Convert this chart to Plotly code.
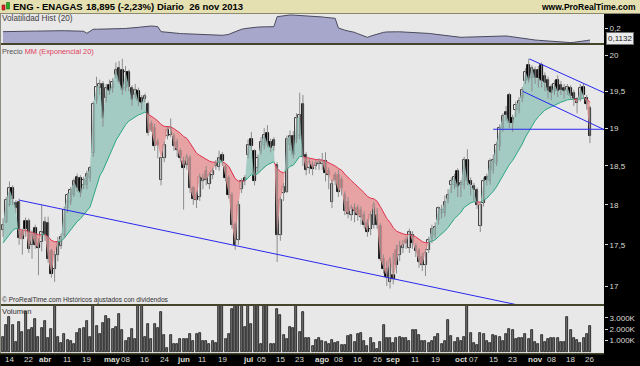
import math
import numpy as np
import pandas as pd
import plotly.graph_objects as go

W, H = 640, 366

# ---------------- data ----------------
holidays = ["2013-03-29", "2013-04-01", "2013-05-01"]
dates = [d.strftime("%Y-%m-%d") for d in pd.bdate_range("2013-03-12", "2013-11-26")
         if d.strftime("%Y-%m-%d") not in holidays]

open_ = [
    17.69, 17.79, 18.00, 18.21, 18.02, 18.04, 17.66, 17.80, 17.80, 17.50,
    17.71, 17.52, 17.54, 17.79, 17.77, 17.42, 17.20, 17.38, 17.48, 17.62,
    17.96, 18.04, 18.13, 18.36, 18.34, 18.26, 18.26, 18.34, 18.67, 19.38,
    19.54, 19.60, 19.41, 19.59, 19.54, 19.72, 19.82, 19.80, 19.54, 19.77,
    19.54, 19.45, 19.50, 19.41, 19.40, 19.33, 19.05, 19.00, 18.82, 18.32,
    18.60, 18.89, 18.91, 18.89, 18.82, 18.69, 18.56, 18.51, 18.60, 18.21,
    18.13, 18.10, 18.30, 18.43, 18.27, 18.38, 18.50, 18.49, 18.64, 18.49,
    18.34, 18.13, 17.75, 17.56, 18.20, 18.34, 18.64, 18.86, 18.69, 18.47,
    18.69, 18.78, 18.93, 18.82, 18.84, 18.51, 17.62, 18.15, 18.17, 18.78,
    18.90, 18.86, 18.90, 19.33, 18.64, 18.47, 18.51, 18.50, 18.53, 18.52,
    18.56, 18.43, 18.04, 18.38, 18.38, 18.32, 18.13, 18.04, 17.87, 17.96,
    17.96, 17.94, 17.87, 17.77, 17.70, 17.75, 17.87, 17.73, 17.33, 17.21,
    17.05, 17.13, 17.44, 17.38, 17.46, 17.56, 17.46, 17.62, 17.48, 17.42,
    17.35, 17.25, 17.44, 17.58, 17.62, 17.81, 17.90, 17.90, 18.08, 18.25,
    18.25, 18.43, 18.25, 18.25, 18.58, 18.30, 18.24, 18.19, 17.73, 18.02,
    18.36, 18.30, 18.45, 18.54, 18.76, 19.00, 19.22, 19.45, 19.13, 19.24,
    19.24, 19.41, 19.64, 19.86, 19.68, 19.80, 19.80, 19.86, 19.71, 19.66,
    19.56, 19.50, 19.66, 19.59, 19.54, 19.50, 19.54, 19.48, 19.39, 19.41,
    19.56, 19.41, 19.27,
]
high = [
    17.83, 18.10, 18.30, 18.25, 18.06, 18.08, 17.70, 17.84, 17.83, 17.68,
    17.75, 17.58, 18.00, 17.85, 17.85, 17.45, 17.42, 17.60, 17.64, 17.98,
    18.15, 18.23, 18.34, 18.40, 18.38, 18.36, 18.44, 18.50, 19.36, 19.70,
    19.66, 19.64, 19.60, 19.66, 19.68, 19.90, 19.92, 19.95, 19.85, 19.80,
    19.58, 19.60, 19.55, 19.45, 19.47, 19.36, 19.10, 19.06, 18.86, 18.62,
    18.82, 19.02, 19.13, 18.93, 18.86, 18.73, 18.62, 18.66, 18.64, 18.24,
    18.17, 18.40, 18.40, 18.50, 18.42, 18.48, 18.58, 18.70, 18.68, 18.52,
    18.38, 18.16, 17.78, 18.05, 18.34, 18.38, 18.85, 18.95, 18.72, 18.65,
    18.88, 19.00, 19.04, 18.86, 18.88, 18.55, 18.10, 18.28, 18.90, 18.97,
    18.96, 19.20, 19.48, 19.45, 18.68, 18.60, 18.56, 18.58, 18.60, 18.67,
    18.68, 18.48, 18.33, 18.42, 18.45, 18.36, 18.17, 18.10, 18.00, 18.02,
    18.00, 17.98, 17.92, 17.82, 17.92, 18.04, 17.96, 17.77, 17.38, 17.30,
    17.35, 17.40, 17.50, 17.55, 17.56, 17.60, 17.70, 17.67, 17.52, 17.46,
    17.40, 17.45, 17.60, 17.75, 17.78, 17.98, 18.00, 18.12, 18.20, 18.35,
    18.40, 18.47, 18.32, 18.62, 18.72, 18.35, 18.28, 18.22, 18.04, 18.35,
    18.40, 18.60, 18.65, 18.82, 19.05, 19.20, 19.30, 19.48, 19.18, 19.36,
    19.42, 19.56, 19.82, 19.95, 19.86, 19.84, 19.85, 19.90, 19.76, 19.70,
    19.60, 19.65, 19.72, 19.64, 19.60, 19.60, 19.58, 19.52, 19.42, 19.60,
    19.60, 19.45, 19.30,
]
low = [
    17.60, 17.77, 17.98, 18.00, 17.90, 17.50, 17.38, 17.60, 17.40, 17.33,
    17.45, 17.13, 17.42, 17.55, 17.28, 17.10, 17.05, 17.30, 17.45, 17.58,
    17.90, 18.00, 18.10, 18.17, 18.10, 18.20, 18.20, 18.30, 18.62, 19.33,
    19.45, 19.02, 19.35, 19.45, 19.48, 19.68, 19.60, 19.45, 19.50, 19.50,
    19.30, 19.40, 19.30, 19.25, 19.35, 18.90, 18.95, 18.70, 18.60, 18.25,
    18.55, 18.85, 18.88, 18.70, 18.62, 18.55, 17.94, 18.45, 18.15, 18.00,
    17.96, 18.05, 18.20, 18.25, 18.20, 18.33, 18.45, 18.44, 18.50, 18.30,
    18.08, 17.70, 17.44, 17.50, 18.15, 18.25, 18.60, 18.70, 18.25, 18.42,
    18.65, 18.72, 18.75, 18.68, 18.70, 17.29, 17.55, 18.05, 18.15, 18.70,
    18.60, 18.80, 18.85, 18.50, 18.38, 18.40, 18.38, 18.45, 18.45, 18.45,
    18.30, 18.20, 17.96, 18.25, 18.10, 18.12, 17.87, 17.83, 17.80, 17.78,
    17.80, 17.75, 17.70, 17.60, 17.62, 17.70, 17.70, 17.30, 17.15, 17.00,
    16.97, 17.02, 17.15, 17.30, 17.40, 17.45, 17.40, 17.45, 17.35, 17.22,
    17.18, 17.12, 17.40, 17.52, 17.58, 17.75, 17.83, 17.85, 18.02, 18.15,
    18.20, 18.10, 18.10, 18.20, 18.25, 18.12, 18.05, 17.95, 17.66, 17.98,
    18.25, 18.26, 18.40, 18.50, 18.70, 18.95, 19.10, 19.00, 18.95, 19.15,
    19.20, 19.35, 19.60, 19.62, 19.50, 19.60, 19.55, 19.55, 19.50, 19.40,
    19.38, 19.45, 19.42, 19.45, 19.40, 19.45, 19.38, 19.30, 19.20, 19.36,
    19.40, 19.25, 18.80,
]
close = [
    17.75, 18.06, 18.21, 18.08, 17.96, 17.58, 17.57, 17.70, 17.45, 17.62,
    17.50, 17.46, 17.66, 17.62, 17.33, 17.15, 17.38, 17.54, 17.60, 17.94,
    18.13, 18.19, 18.30, 18.21, 18.15, 18.32, 18.40, 18.47, 19.33, 19.56,
    19.60, 19.13, 19.54, 19.50, 19.63, 19.80, 19.63, 19.52, 19.77, 19.56,
    19.38, 19.52, 19.36, 19.34, 19.43, 18.93, 18.98, 18.76, 18.78, 18.60,
    18.78, 18.98, 19.00, 18.76, 18.71, 18.60, 18.48, 18.62, 18.21, 18.08,
    18.06, 18.36, 18.34, 18.32, 18.38, 18.43, 18.53, 18.60, 18.56, 18.34,
    18.13, 17.75, 17.50, 18.00, 18.30, 18.30, 18.78, 18.76, 18.30, 18.60,
    18.82, 18.91, 18.80, 18.73, 18.76, 17.62, 18.06, 18.23, 18.86, 18.90,
    18.64, 19.13, 19.17, 18.62, 18.45, 18.55, 18.46, 18.54, 18.55, 18.56,
    18.41, 18.38, 18.27, 18.32, 18.17, 18.21, 17.92, 17.89, 17.96, 17.92,
    17.87, 17.85, 17.75, 17.66, 17.87, 18.00, 17.75, 17.33, 17.21, 17.11,
    17.31, 17.09, 17.25, 17.48, 17.50, 17.52, 17.66, 17.52, 17.42, 17.29,
    17.25, 17.40, 17.56, 17.70, 17.72, 17.96, 17.94, 18.04, 18.13, 18.30,
    18.36, 18.23, 18.28, 18.58, 18.30, 18.25, 18.19, 18.00, 18.00, 18.30,
    18.32, 18.56, 18.58, 18.78, 19.00, 19.16, 19.18, 19.07, 19.07, 19.31,
    19.36, 19.52, 19.77, 19.66, 19.82, 19.68, 19.68, 19.64, 19.62, 19.50,
    19.48, 19.60, 19.50, 19.52, 19.50, 19.56, 19.43, 19.39, 19.34, 19.54,
    19.45, 19.32, 18.895,
]
volume_m = [
    1.34, 2.35, 3.10, 2.35, 0.87, 2.60, 1.75, 3.55, 1.93, 2.14,
    2.90, 1.30, 2.14, 2.73, 1.25, 2.05, 4.60, 1.34, 0.80, 1.60,
    1.07, 0.98, 0.66, 1.63, 2.05, 2.10, 2.73, 1.30, 4.50, 2.26,
    1.55, 2.55, 3.14, 2.88, 2.00, 2.20, 3.30, 1.93, 1.00, 1.20,
    1.98, 1.10, 4.80, 4.40, 1.34, 2.43, 1.16, 2.43, 2.14, 3.50,
    1.46, 0.37, 1.49, 0.72, 0.72, 1.17, 1.10, 1.17, 1.55, 1.00,
    1.55, 1.67, 0.96, 0.93, 0.66, 0.96, 0.80, 4.50, 4.30, 1.10,
    1.60, 3.80, 4.40, 4.60, 4.30, 2.23, 4.50, 2.43, 4.70, 4.40,
    0.66, 4.50, 4.30, 0.72, 0.72, 3.80, 3.26, 1.49, 1.10, 2.20,
    2.14, 4.50, 1.75, 3.50, 1.20, 1.20, 0.50, 1.05, 1.20,
    0.96, 0.87, 0.72, 1.07, 0.77, 0.87, 0.60, 0.60, 1.37, 1.52,
    0.87, 1.55, 1.70, 1.00, 0.50, 1.25, 0.80, 0.22, 0.90, 2.35,
    1.20, 1.20, 0.80, 1.20, 1.30, 1.20, 1.20, 1.00, 1.90, 1.90,
    1.50, 0.96, 0.96, 0.77, 1.00, 1.34, 1.60, 0.66, 1.00, 2.80,
    1.40, 0.87, 1.25, 0.96, 1.30, 4.60, 1.63, 0.75, 0.60, 1.63,
    1.55, 0.96, 0.80, 1.46, 1.40, 1.34, 1.00, 1.55, 2.05, 1.90,
    1.17, 1.25, 1.20, 1.60, 1.17, 1.90, 0.87, 0.66, 1.46, 0.87,
    1.17, 1.20, 1.25, 1.25, 0.87, 0.87, 3.10, 1.90, 1.20, 1.05,
    0.80, 1.20, 1.55, 2.26,
]
volatility = [
    0.175, 0.176, 0.176, 0.177, 0.177, 0.178, 0.178, 0.178, 0.179, 0.179,
    0.179, 0.180, 0.180, 0.180, 0.181, 0.181, 0.181, 0.181, 0.182, 0.182,
    0.182, 0.182, 0.182, 0.182, 0.182, 0.178, 0.163, 0.180, 0.193, 0.193,
    0.193, 0.193, 0.193, 0.193, 0.194, 0.195, 0.197, 0.198, 0.199, 0.200,
    0.202, 0.204, 0.207, 0.210, 0.213, 0.216, 0.217, 0.215, 0.212, 0.175,
    0.172, 0.169, 0.166, 0.163, 0.162, 0.161, 0.160, 0.159, 0.158, 0.157,
    0.156, 0.155, 0.153, 0.152, 0.150, 0.148, 0.146, 0.145, 0.148, 0.151,
    0.155, 0.165, 0.176, 0.187, 0.193, 0.198, 0.202, 0.205, 0.207, 0.209,
    0.210, 0.211, 0.212, 0.212, 0.212, 0.286, 0.290, 0.294, 0.297, 0.299,
    0.298, 0.297, 0.296, 0.294, 0.292, 0.290, 0.289, 0.288, 0.286, 0.284,
    0.281, 0.278, 0.276, 0.274, 0.202, 0.192, 0.186, 0.180, 0.176, 0.170,
    0.160, 0.150, 0.140, 0.133, 0.142, 0.150, 0.158, 0.165, 0.170, 0.173,
    0.175, 0.175, 0.174, 0.174, 0.173, 0.173, 0.172, 0.171, 0.171, 0.170,
    0.168, 0.165, 0.162, 0.159, 0.156, 0.153, 0.150, 0.147, 0.144, 0.141,
    0.137, 0.134, 0.133, 0.134, 0.135, 0.136, 0.137, 0.138, 0.139, 0.140,
    0.140, 0.141, 0.142, 0.142, 0.143, 0.143, 0.143, 0.140, 0.136, 0.132,
    0.128, 0.124, 0.120, 0.118, 0.115, 0.113, 0.111, 0.109, 0.106, 0.104,
    0.101, 0.099, 0.097, 0.095, 0.094, 0.093, 0.094, 0.096, 0.098, 0.101,
    0.105, 0.109, 0.1132,
]
ema_seed = 17.50
ema_period = 20

tick_dates = ["2013-03-14", "2013-03-22", "2013-04-02", "2013-04-11", "2013-04-19",
              "2013-05-02", "2013-05-08", "2013-05-16", "2013-05-24", "2013-06-03",
              "2013-06-11", "2013-06-19", "2013-07-01", "2013-07-05", "2013-07-15",
              "2013-07-23", "2013-08-01", "2013-08-08", "2013-08-16", "2013-08-26",
              "2013-09-02", "2013-09-11", "2013-09-19", "2013-10-01", "2013-10-07",
              "2013-10-15", "2013-10-23", "2013-11-01", "2013-11-08", "2013-11-18",
              "2013-11-26"]
tick_text = ["14", "22", "<b>abr</b>", "11", "19", "<b>may</b>", "08", "16", "24", "<b>jun</b>",
             "11", "19", "<b>jul</b>", "05", "15", "23", "<b>ago</b>", "08", "16", "26",
             "<b>sep</b>", "11", "19", "<b>oct</b>", "07", "15", "23", "<b>nov</b>", "08", "18", "26"]
price_ticks = [17, 17.5, 18, 18.5, 19, 19.5, 20]
price_tick_text = ["17", "17,5", "18", "18,5", "19", "19,5", "20"]
vol_ticks = [1e6, 2e6, 3e6]
vol_tick_text = ["1.000K", "2.000K", "3.000K"]

# drawn trend lines (bar index, price)
trend_long = {"i": [5.05, 159.0], "p": [18.06, 16.78]}
channel_up = {"i": [163.2, 186.4], "p": [19.95, 19.48]}
channel_dn = {"i": [161.1, 186.4], "p": [19.50, 18.98]}
level_19 = {"i": [152.0, 186.4], "p": [18.985, 18.985]}

# ---------------- derived ----------------
n = len(close)
idx = list(range(n))
alpha = 2.0 / (ema_period + 1)
ema = []
prev = ema_seed
for c in close:
    prev = prev + alpha * (c - prev)
    ema.append(prev)

xs, cs, es = [], [], []
for i in range(n):
    if i > 0:
        d0 = math.log10(close[i - 1]) - math.log10(ema[i - 1])
        d1 = math.log10(close[i]) - math.log10(ema[i])
        if d0 * d1 < 0:
            t = d0 / (d0 - d1)
            le = math.log10(ema[i - 1]) + t * (math.log10(ema[i]) - math.log10(ema[i - 1]))
            v = 10 ** le
            xs.append(i - 1 + t); cs.append(v); es.append(v)
    xs.append(i); cs.append(close[i]); es.append(ema[i])
upper = [max(a, b) for a, b in zip(cs, es)]
lower = [min(a, b) for a, b in zip(cs, es)]
ema_up = [e if c >= e - 1e-12 else None for c, e in zip(cs, es)]
ema_dn = [e if c <= e + 1e-12 else None for c, e in zip(cs, es)]

body_lo = [min(o, c) for o, c in zip(open_, close)]
body_len = [max(abs(c - o), 0.008) for o, c in zip(open_, close)]
body_col = ["#ffffff" if c >= o else "#000000" for o, c in zip(open_, close)]
wx, wy = [], []
for i in range(n):
    wx += [i, i, None]
    wy += [low[i], high[i], None]

tick_idx = [dates.index(d) for d in tick_dates]

# ---------------- geometry helpers ----------------
def px(x):
    return x / W

def py(y):
    return 1 - y / H

X_RIGHT = 604
bar_px = 3.225
x0_px = 3.0
x_range = [(0 - x0_px) / bar_px, (X_RIGHT - x0_px) / bar_px]

FONT = "Liberation Sans, Arial, sans-serif"
TEAL_FILL = "rgba(150,196,188,0.85)"
RED_FILL = "rgba(230,150,152,0.85)"

fig = go.Figure()

fig.add_trace(go.Scatter(x=idx, y=volatility, mode="lines", fill="tozeroy",
                         fillcolor="#a7a7cb", line=dict(color="#4a4a5e", width=1),
                         xaxis="x", yaxis="y2", hoverinfo="skip", showlegend=False))

fig.add_trace(go.Scatter(x=xs, y=es, mode="lines", line=dict(width=0), yaxis="y",
                         hoverinfo="skip", showlegend=False))
fig.add_trace(go.Scatter(x=xs, y=upper, mode="lines", line=dict(width=0), fill="tonexty",
                         fillcolor=TEAL_FILL, yaxis="y", hoverinfo="skip", showlegend=False))
fig.add_trace(go.Scatter(x=xs, y=es, mode="lines", line=dict(width=0), yaxis="y",
                         hoverinfo="skip", showlegend=False))
fig.add_trace(go.Scatter(x=xs, y=lower, mode="lines", line=dict(width=0), fill="tonexty",
                         fillcolor=RED_FILL, yaxis="y", hoverinfo="skip", showlegend=False))
fig.add_trace(go.Scatter(x=xs, y=ema_up, mode="lines", line=dict(color="#2aa882", width=1),
                         connectgaps=False, yaxis="y", hoverinfo="skip", showlegend=False))
fig.add_trace(go.Scatter(x=xs, y=ema_dn, mode="lines", line=dict(color="#e0304e", width=1),
                         connectgaps=False, yaxis="y", hoverinfo="skip", showlegend=False))

fig.add_trace(go.Scatter(x=wx, y=wy, mode="lines", line=dict(color="#8c8c8c", width=1),
                         yaxis="y", hoverinfo="skip", showlegend=False))
fig.add_trace(go.Bar(x=idx, y=body_len, base=body_lo, width=0.8,
                     marker=dict(color=body_col, line=dict(color="#000000", width=0.8)),
                     yaxis="y", hoverinfo="skip", showlegend=False))

for tl in (trend_long, channel_up, channel_dn, level_19):
    fig.add_trace(go.Scatter(x=tl["i"], y=tl["p"], mode="lines",
                             line=dict(color="#2828f0", width=1), yaxis="y",
                             hoverinfo="skip", showlegend=False))

fig.add_trace(go.Bar(x=idx, y=[v * 1e6 for v in volume_m], width=0.62,
                     marker=dict(color="#707070", line=dict(color="#000000", width=0.7)),
                     yaxis="y3", hoverinfo="skip", showlegend=False))

axis_font = dict(family=FONT, size=8, color="#dcdcd4")

fig.update_layout(
    template="none",
    width=W, height=H,
    margin=dict(l=0, r=0, t=0, b=0, pad=0),
    paper_bgcolor="#000000",
    plot_bgcolor="#e8e8e8",
    showlegend=False,
    bargap=0,
    barmode="overlay",
    xaxis=dict(domain=[0, px(X_RIGHT)], range=x_range, anchor="y3",
               automargin=False, showticklabels=False, ticks="",
               showgrid=False, zeroline=False, showline=False, fixedrange=True),
    yaxis=dict(domain=[py(304), py(45)], type="log", automargin=False,
               range=[math.log10(16.786), math.log10(20.146)],
               side="right", anchor="x", tickmode="array", tickvals=price_ticks,
               ticktext=price_tick_text, tickfont=axis_font, ticks="outside",
               ticklen=3, tickcolor="#dcdcd4", showgrid=False, zeroline=False,
               showline=False),
    yaxis2=dict(domain=[py(43), py(14)], range=[0.0909, 0.3061], side="right",
                anchor="x", automargin=False, tickmode="array", tickvals=[0.2], ticktext=["0,2"],
                tickfont=axis_font, ticks="outside", ticklen=3, tickcolor="#dcdcd4",
                showgrid=False, zeroline=False, showline=False),
    yaxis3=dict(domain=[py(353), py(306)], range=[-0.088e6, 4.035e6], side="right",
                anchor="x", automargin=False, tickmode="array", tickvals=vol_ticks,
                ticktext=vol_tick_text, tickfont=axis_font, ticks="outside", ticklen=3,
                tickcolor="#dcdcd4", showgrid=False, zeroline=False, showline=False),
)

shapes = []
shapes.append(dict(type="rect", xref="paper", yref="paper", x0=0, x1=1, y0=py(13), y1=1,
                   fillcolor="#e4e0b2", line=dict(width=0), layer="above"))
shapes.append(dict(type="line", xref="paper", yref="paper", x0=0, x1=1, y0=py(13.5), y1=py(13.5),
                   line=dict(color="#8a8870", width=1), layer="above"))
shapes.append(dict(type="rect", xref="paper", yref="paper", x0=px(2), x1=px(5), y0=py(10), y1=py(5),
                   fillcolor="#e02828", line=dict(color="#700000", width=0.5), layer="above"))
shapes.append(dict(type="rect", xref="paper", yref="paper", x0=px(6.5), x1=px(9.5), y0=py(9), y1=py(2.5),
                   fillcolor="#22b022", line=dict(color="#005000", width=0.5), layer="above"))
for y0, y1 in ((43, 45), (304, 306), (353, 354.5)):
    shapes.append(dict(type="rect", xref="paper", yref="paper", x0=0, x1=px(X_RIGHT),
                       y0=py(y1), y1=py(y0), fillcolor="#45452a", line=dict(width=0), layer="above"))
shapes.append(dict(type="line", xref="paper", yref="paper", x0=px(0.5), x1=px(0.5), y0=py(353), y1=py(14),
                   line=dict(color="#8c8c80", width=1), layer="above"))
fig.update_layout(shapes=shapes)

def ann(text, x, y, size, color, xanchor="left", bold=False, **kw):
    t = f"<b>{text}</b>" if bold else text
    d = dict(text=t, x=px(x), y=py(y), xref="paper", yref="paper", showarrow=False,
             xanchor=xanchor, yanchor="middle", font=dict(family=FONT, size=size, color=color))
    d.update(kw)
    return d

annotations = [
    ann("ENG - ENAGAS", 11, 6.8, 9.5, "#000000", bold=True),
    ann("18,895 (-2,23%)", 84, 6.8, 9.5, "#000000", bold=True),
    ann("Diario  26 nov 2013", 155, 6.8, 9.5, "#000000", bold=True),
    ann("www.ProRealTime.com", 638, 6.8, 8.5, "#000000", xanchor="right", bold=True),
    ann("Volatilidad Hist (20)", 0, 19, 8.2, "#404040"),
    ann("Precio <span style='color:#e0405e'>MM (Exponencial 20)</span>", 0, 51, 7.3, "#505050"),
    ann("© ProRealTime.com Históricos ajustados con dividendos", 0, 299.5, 6.6, "#303030"),
    ann("Volumen", 0, 311.5, 7.6, "#303030"),
    dict(text="0,1132", x=px(606), y=py(38.5), xref="paper", yref="paper", showarrow=False,
         xanchor="left", yanchor="middle", font=dict(family=FONT, size=8, color="#202020"),
         bgcolor="#ececec", bordercolor="#707070", borderwidth=1, borderpad=1),
]
# date labels along the bottom band, positioned on the bar-index axis
for ti, tt in zip(tick_idx, tick_text):
    annotations.append(dict(text=tt, x=ti, xref="x", y=py(359.8), yref="paper",
                            showarrow=False, xanchor="center", yanchor="middle",
                            font=dict(family=FONT, size=8, color="#dcdcd4")))
fig.update_layout(annotations=annotations)

fig.write_html("out.html")
